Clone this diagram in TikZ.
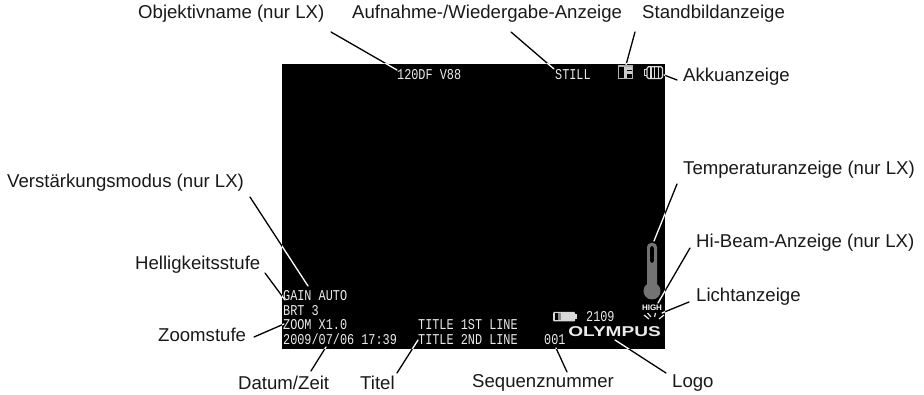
\documentclass[tikz,border=0pt]{standalone}
\usepackage{fontspec}
\setmainfont{Liberation Sans}
\newfontfamily\osdfont{Liberation Mono}
\begin{document}
\begin{tikzpicture}[x=1pt,y=-1pt,
  lab/.style={font=\fontsize{18.6}{20}\selectfont,inner sep=0pt,text=black!90,anchor=west},
  osd/.style={font=\osdfont\fontsize{15}{17}\selectfont,inner sep=0pt,text=white!92!black,anchor=west,xscale=0.79},
  lead/.style={line width=1.3pt,line cap=round}]
\useasboundingbox (0,0) rectangle (924,395);
\fill[black] (282,64) rectangle (665,349);
\coordinate (screenA) at (282,64);
\coordinate (screenB) at (665,349);
% labels
\node[lab] (obj) at (138,14) {Objektivname (nur LX)};
\node[lab] (auf) at (352,14) {Aufnahme-/Wiedergabe-Anzeige};
\node[lab] (stand) at (642,14) {Standbildanzeige};
\node[lab] (akku) at (683,77) {Akkuanzeige};
\node[lab] (temp) at (683,170) {Temperaturanzeige (nur LX)};
\node[lab] (hibeam) at (696,243) {Hi-Beam-Anzeige (nur LX)};
\node[lab] (licht) at (696,297) {Lichtanzeige};
\node[lab] (verst) at (7,183) {Verstärkungsmodus (nur LX)};
\node[lab] (hell) at (135,265) {Helligkeitsstufe};
\node[lab] (zoom) at (158,335) {Zoomstufe};
\node[lab] (datum) at (238,383) {Datum/Zeit};
\node[lab] (titel) at (360,383) {Titel};
\node[lab] (seq) at (472,383) {Sequenznummer};
\node[lab] (logo) at (672,383) {Logo};
% OSD text
\node[osd] (o1) at (397,75) {120DF V88};
\node[osd] (o2) at (555,75) {STILL};
\node[osd] (o3) at (283,296) {GAIN AUTO};
\node[osd] (o4) at (283,311) {BRT 3};
\node[osd] (o5) at (283,325) {ZOOM X1.0};
\node[osd] (o6) at (283,339.5) {2009/07/06 17:39};
\node[osd] (o7) at (418,325) {TITLE 1ST LINE};
\node[osd] (o8) at (418,339.5) {TITLE 2ND LINE};
\node[osd] (o9) at (544,340) {001};
\node[osd] (o10) at (586,317) {2109};
\node[font=\fontsize{15}{17}\bfseries\selectfont,text=white!92!black,inner sep=0pt,xscale=1.27,yscale=.95] (olympus) at (614.5,332) {OLYMPUS};
\node[font=\fontsize{8}{9}\bfseries\selectfont,text=white,inner sep=0pt] (high) at (652,308) {HIGH};
% F icon
\draw[white!70!black,line width=1.2pt] (618.5,66) rectangle (632.5,78.5);
\fill[white!80!black] (624,67) rectangle (632,78);
\fill[black] (626.5,70) rectangle (632,71.5);
\fill[black] (626.5,74) rectangle (632,78);
% battery
\draw[white!85!black,line width=1.2pt,rounded corners=1.5pt] (647,66.8) rectangle (662.5,78.5);
\draw[white!85!black,line width=1.2pt] (646.5,69.5) -- (644.6,69.5) -- (644.6,75.5) -- (646.5,75.5);
\foreach \x in {651,654.7,658.4} \draw[white!85!black,line width=1.5pt] (\x,67.5) -- (\x,78);
% small battery
\fill[white!85!black,rounded corners=1pt] (553,312) rectangle (575,321.5);
\fill[black] (554.5,313.5) rectangle (558,320);
\fill[white!55!black] (558,313.5) rectangle (561,320);
\fill[white!85!black] (575,314) rectangle (577,319.5);
% thermometer
\fill[white!45!black] (652,291) circle (8.5);
\fill[white!45!black,rounded corners=4pt] (647,243) rectangle (657,288);
\fill[black,rounded corners=1.7pt] (650.2,246) rectangle (653.8,263);
% light rays
\foreach \a/\b/\c/\d in {644/315/649/319,647.5/313/651/317,655.5/313/654.5/317,664/315/659/319}
  \draw[white!90!black,line width=1.2pt] (\a,\b) -- (\c,\d);
% leaders
\coordinate (tObj) at (397,70);
\coordinate (sObj) at (331,32);
\coordinate (tAuf) at (554,69);
\coordinate (sAuf) at (511,32);
\coordinate (tStand) at (626,65);
\coordinate (sStand) at (635,32);
\coordinate (tAkku) at (664,75);
\coordinate (sAkku) at (677,80);
\coordinate (tTemp) at (654,241);
\coordinate (sTemp) at (677,184);
\coordinate (tHi) at (658,303);
\coordinate (sHi) at (690,248);
\coordinate (tLicht) at (662,313);
\coordinate (sLicht) at (689,302);
\coordinate (tVerst) at (308,286);
\coordinate (sVerst) at (250,197);
\coordinate (tHell) at (285,300);
\coordinate (sHell) at (265,273);
\coordinate (tZoom) at (284,324);
\coordinate (sZoom) at (254,337);
\coordinate (tDatum) at (326,347);
\coordinate (sDatum) at (311,371);
\coordinate (tTitel) at (418,340);
\coordinate (sTitel) at (397,373);
\coordinate (tSeq) at (556,348);
\coordinate (sSeq) at (567,372);
\coordinate (tLogo) at (615,340);
\coordinate (sLogo) at (666,373);
\foreach \p in {Obj,Auf,Stand,Akku,Temp,Hi,Licht,Verst,Hell,Zoom,Datum,Titel,Seq,Logo}
  \draw[lead] (s\p) -- (t\p);
\begin{scope}
\clip (screenA) rectangle (screenB);
\foreach \p in {Obj,Auf,Stand,Akku,Temp,Hi,Licht,Verst,Hell,Zoom,Datum,Titel,Seq,Logo}
  \draw[lead,white] (s\p) -- (t\p);
\end{scope}
\end{tikzpicture}
\end{document}
